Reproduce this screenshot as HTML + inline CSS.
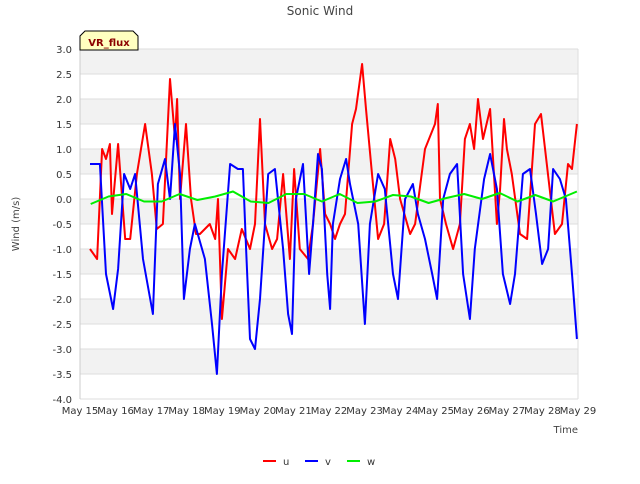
<!DOCTYPE html>
<html><head><meta charset="utf-8"><style>
body{margin:0;background:#fff;font-family:"DejaVu Sans",sans-serif}
svg text{font-family:"DejaVu Sans",sans-serif}
</style></head><body>
<svg id="chart" width="640" height="480">
<text x="320" y="15" text-anchor="middle" font-size="12" fill="#444">Sonic Wind</text>
<text transform="translate(19,224) rotate(-90)" text-anchor="middle" font-size="10" fill="#444">Wind (m/s)</text>
<text x="578" y="433" text-anchor="end" font-size="10" fill="#444">Time</text>
<g id="grid"></g><g id="series"></g><g id="axes"></g>
<g>
<path d="M80,50 L80,36 L85,31 L133,31 L138,36 L138,50 Z" fill="#ffffc0" stroke="#000" stroke-width="1"/>
<text x="109" y="46" text-anchor="middle" font-size="10" font-weight="bold" fill="#8b0000">VR_flux</text></g>
<g>
<g><line x1="263" y1="461" x2="276" y2="461" stroke="#f00" stroke-width="2"/><text x="283" y="465" font-size="10" fill="#333">u</text></g>
<g><line x1="305" y1="461" x2="318" y2="461" stroke="#00f" stroke-width="2"/><text x="325" y="465" font-size="10" fill="#333">v</text></g>
<g><line x1="347" y1="461" x2="360" y2="461" stroke="#0e0" stroke-width="2"/><text x="367" y="465" font-size="10" fill="#333">w</text></g>
</g>
</svg>
<script>
const yTicks=[-4,-3.5,-3,-2.5,-2,-1.5,-1,-0.5,0,0.5,1,1.5,2,2.5,3];
const xLabels=["May 15","May 16","May 17","May 18","May 19","May 20","May 21","May 22","May 23","May 24","May 25","May 26","May 27","May 28","May 29"];
const uT=[0.28,0.48,0.62,0.73,0.84,0.90,1.07,1.27,1.41,1.60,1.83,2.02,2.16,2.33,2.53,2.67,2.73,2.81,2.98,3.12,3.26,3.37,3.65,3.80,3.88,3.99,4.16,4.36,4.55,4.78,4.92,5.06,5.20,5.40,5.54,5.71,5.90,6.02,6.18,6.41,6.55,6.75,6.89,7.03,7.17,7.31,7.45,7.65,7.76,7.93,8.04,8.21,8.38,8.55,8.72,8.86,9.00,9.28,9.42,9.70,9.98,10.06,10.12,10.29,10.49,10.68,10.82,10.96,11.08,11.19,11.33,11.53,11.72,11.81,11.92,12.00,12.14,12.37,12.57,12.79,12.96,13.35,13.55,13.72,13.83,13.97];
const uV=[-1.0,-1.2,1.0,0.8,1.1,-0.3,1.1,-0.8,-0.8,0.5,1.5,0.5,-0.6,-0.5,2.4,1.2,2.0,0,1.5,0,-0.7,-0.7,-0.5,-0.8,0,-2.4,-1.0,-1.2,-0.6,-1.0,-0.5,1.6,-0.5,-1.0,-0.8,0.5,-1.2,0.6,-1.0,-1.2,-0.5,1.0,-0.3,-0.5,-0.8,-0.5,-0.3,1.5,1.8,2.7,1.8,0.5,-0.8,-0.5,1.2,0.8,0.0,-0.7,-0.5,1.0,1.5,1.9,0.0,-0.5,-1.0,-0.5,1.2,1.5,1.0,2.0,1.2,1.8,-0.5,0.2,1.6,1.0,0.5,-0.7,-0.8,1.5,1.7,-0.7,-0.5,0.7,0.6,1.5];
const vT=[0.28,0.56,0.73,0.93,1.07,1.24,1.41,1.55,1.77,2.05,2.19,2.39,2.53,2.67,2.81,2.92,3.09,3.23,3.51,3.71,3.85,3.99,4.22,4.44,4.58,4.67,4.78,4.92,5.06,5.29,5.48,5.71,5.85,5.96,6.07,6.27,6.44,6.55,6.69,6.80,6.95,7.03,7.11,7.31,7.48,7.59,7.82,8.01,8.15,8.38,8.57,8.80,8.94,9.14,9.36,9.50,9.70,9.90,10.04,10.21,10.40,10.60,10.77,10.96,11.10,11.36,11.53,11.72,11.89,12.09,12.23,12.45,12.65,12.82,12.99,13.16,13.30,13.49,13.66,13.83,13.97];
const vV=[0.7,0.7,-1.5,-2.2,-1.4,0.5,0.2,0.5,-1.2,-2.3,0.3,0.8,0,1.5,0.5,-2.0,-1.0,-0.5,-1.2,-2.5,-3.5,-1.5,0.7,0.6,0.6,-1.0,-2.8,-3.0,-2.0,0.5,0.6,-1.0,-2.3,-2.7,0.0,0.7,-1.5,-0.5,0.9,0.6,-1.5,-2.2,-0.5,0.4,0.8,0.3,-0.5,-2.5,-0.5,0.5,0.2,-1.5,-2.0,0.0,0.3,-0.3,-0.8,-1.5,-2.0,0.0,0.5,0.7,-1.5,-2.4,-1.0,0.4,0.9,0.2,-1.5,-2.1,-1.5,0.5,0.6,-0.3,-1.3,-1.0,0.6,0.4,0.0,-1.5,-2.8];
const wT=[0.3,0.8,1.3,1.8,2.3,2.8,3.3,3.8,4.3,4.8,5.3,5.8,6.3,6.8,7.3,7.8,8.3,8.8,9.3,9.8,10.3,10.8,11.3,11.8,12.3,12.8,13.3,13.97];
const wV=[-0.1,0.05,0.1,-0.05,-0.05,0.1,-0.02,0.05,0.15,-0.05,-0.08,0.1,0.1,-0.05,0.1,-0.08,-0.05,0.08,0.05,-0.08,0.02,0.1,0.0,0.12,-0.05,0.08,-0.05,0.15];
const X0=80,X1=578,Y0=399,Y1=49;
const xs=d=>X0+(X1-X0)*d/14;
const ys=v=>Y0-(v+4)/7*(Y0-Y1);
const NS="http://www.w3.org/2000/svg";
function mk(tag,attrs,parent){const e=document.createElementNS(NS,tag);for(const k in attrs)e.setAttribute(k,attrs[k]);parent.appendChild(e);return e;}
const grid=document.getElementById('grid'),axes=document.getElementById('axes'),series=document.getElementById('series');
for(let i=0;i<yTicks.length-1;i++){
  if((yTicks.length-2-i)%2===0){const r=mk('rect',{x:X0,y:ys(yTicks[i+1]),width:X1-X0,height:ys(yTicks[i])-ys(yTicks[i+1]),fill:'#f2f2f2'},grid);
  
  }
}
yTicks.forEach(t=>{
  const l=mk('line',{x1:X0,x2:X1,y1:ys(t),y2:ys(t),stroke:'#ddd','stroke-width':1},grid);
  
  
  const tx=mk('text',{x:X0-8,y:ys(t)+4,'text-anchor':'end','font-size':10,fill:'#333'},axes);
  tx.textContent=t.toFixed(1);
  
  
});
mk('line',{x1:X1,x2:X1,y1:Y1,y2:Y0,stroke:'#ddd'},grid);
mk('line',{x1:X0,x2:X0,y1:Y1,y2:Y0,stroke:'#ccc'},grid);
xLabels.forEach((s,i)=>{
  const tx=mk('text',{x:xs(i),y:Y0+15,'text-anchor':'middle','font-size':10,fill:'#333'},axes);
  tx.textContent=s;
  
  
});
function line(T,V,color,name){
  const p=mk('polyline',{points:T.map((t,i)=>xs(t).toFixed(1)+','+ys(V[i]).toFixed(1)).join(' '),fill:'none',stroke:color,'stroke-width':2,'stroke-linejoin':'round'},series);
  
  
}
line(uT,uV,'#f00','series-u');
line(vT,vV,'#00f','series-v');
line(wT,wV,'#0e0','series-w');
</script>
</body></html>
